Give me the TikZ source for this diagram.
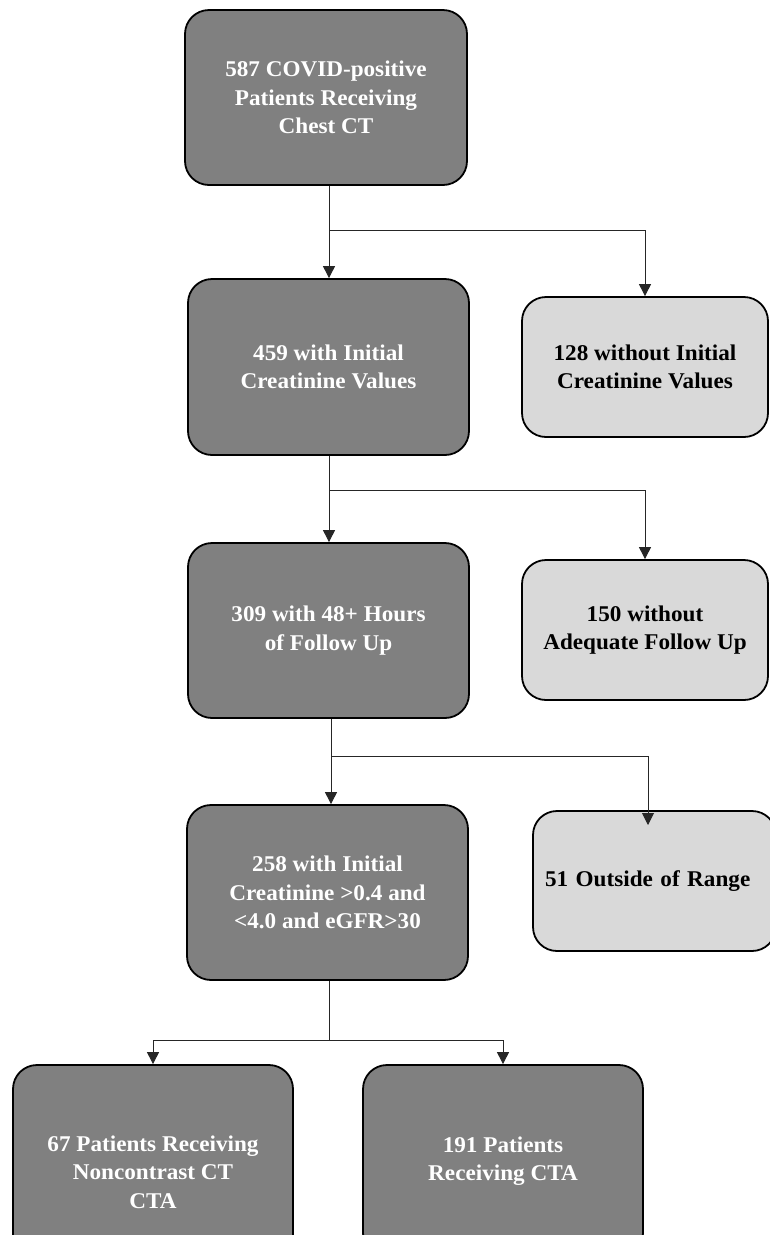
\documentclass[tikz,border=0pt]{standalone}
\usepackage{fontspec}
\setmainfont{Liberation Serif}[FakeStretch=1.03]
\usetikzlibrary{arrows.meta}
\definecolor{boxdark}{HTML}{808080}
\definecolor{boxlight}{HTML}{D9D9D9}
\begin{document}
\begin{tikzpicture}[x=1pt,y=-1pt,
  boxtext/.style={font=\bfseries\fontsize{22.5}{28.3}\selectfont, align=center, inner sep=0pt},
  darkbox/.style={boxtext, draw=black, line width=1.8pt, fill=boxdark, rounded corners=24pt, text=white, minimum width=281pt, minimum height=175pt},
  lightbox/.style={boxtext, draw=black, line width=1.8pt, fill=boxlight, rounded corners=24pt, text=black, minimum width=246pt, minimum height=140pt},
  conn/.style={line width=0.9pt, draw=black!85},
  arr/.style={conn, -{Triangle[length=12pt,width=12pt]}}]
\useasboundingbox (0,0) rectangle (770,1235);
\clip (0,0) rectangle (770,1235);

\node[darkbox, minimum width=282pt] (b1) at (326,97.5) {587 COVID-positive\\Patients Receiving\\Chest CT};
\node[darkbox, minimum height=176pt] (b2) at (328.5,367) {459 with Initial\\Creatinine Values};
\node[darkbox] (b3) at (328.5,630.5) {309 with 48+ Hours\\of Follow Up};
\node[darkbox] (b4) at (327.5,892.5) {258 with Initial\\Creatinine >0.4 and\\<4.0 and eGFR>30};

\node[lightbox] (r1) at (645,367) {128 without Initial\\Creatinine Values};
\node[lightbox] (r2) at (645,630) {150 without\\Adequate Follow Up};
\node[lightbox, minimum width=243pt, text width=219pt, align=left, inner xsep=12pt] (r3) at (654.5,881) {51 Outside of Range};

\node[darkbox, minimum width=280pt, minimum height=214pt] (b5) at (153,1172) {67 Patients Receiving\\Noncontrast CT\\CTA};
\node[darkbox, minimum width=280pt, minimum height=192pt] (b6) at (503,1161) {191 Patients\\Receiving CTA};

\coordinate (j1) at (329,230);
\coordinate (j2) at (329,490);
\coordinate (j3) at (331,756);
\coordinate (e3) at (648,825);
\coordinate (j4) at (329,1040);

\draw[arr] (b1.south -| j1) -- (b2.north -| j1);
\draw[arr] (j1) -| (r1.north);
\draw[arr] (b2.south -| j2) -- (b3.north -| j2);
\draw[arr] (j2) -| (r2.north);
\draw[arr] (b3.south -| j3) -- (b4.north -| j3);
\draw[arr] (j3) -| (e3);
\draw[conn] (b4.south -| j4) -- (j4);
\draw[arr] (j4) -| (b5.north);
\draw[arr] (j4) -| (b6.north);
\end{tikzpicture}
\end{document}
